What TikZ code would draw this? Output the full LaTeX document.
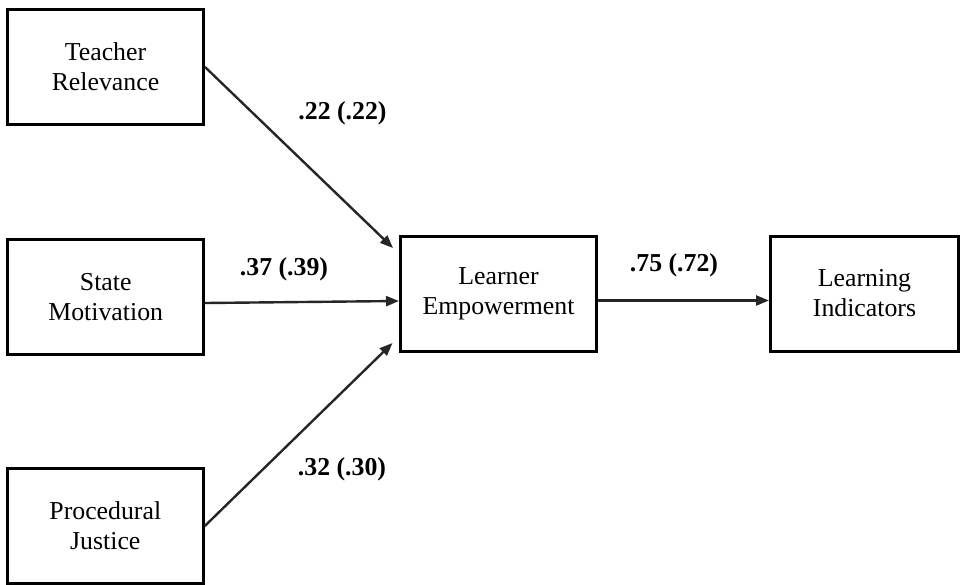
\documentclass[tikz,border=0pt]{standalone}
\usepackage{fontspec}
\setmainfont{Liberation Serif}
\usetikzlibrary{arrows.meta}
\tikzset{
  box/.style={draw=black, line width=3pt, minimum width=196pt, minimum height=115pt,
    inner sep=0pt, align=center, font=\fontsize{25.8}{30}\selectfont},
  conn/.style={draw=black!85, line width=2.4pt, -{Triangle[length=13pt,width=10pt]}},
  coef/.style={font=\fontsize{25.8}{30}\selectfont\bfseries, inner sep=0pt}
}
\begin{document}
\begin{tikzpicture}[x=1pt,y=-1pt]
\useasboundingbox (0,0) rectangle (960,584);
\fill[white] (0,0) rectangle (960,584);
\begin{scope}
\clip (0,0) rectangle (960,584);
\node[box] (TR) at (105.5,67) {Teacher\\Relevance};
\node[box] (SM) at (105.7,297) {State\\Motivation};
\node[box] (PJ) at (105.3,526) {Procedural\\Justice};
\node[box] (LE) at (498.5,293.5) {Learner\\Empowerment};
\node[box, minimum width=188pt] (LI) at (864.5,293.5) {Learning\\Indicators};
\end{scope}
\coordinate (t1) at (393,248);
\coordinate (t3) at (392.5,343);
\draw[conn] (TR.east) -- (t1);
\draw[conn] ([yshift=-6pt]SM.east) -- ([yshift=-7.5pt]LE.west);
\draw[conn] (PJ.east) -- (t3);
\draw[conn] ([yshift=-7pt]LE.east) -- ([yshift=-7pt]LI.west);
\node[coef] (c1) at (342.5,113) {.22 (.22)};
\node[coef] (c2) at (284,269) {.37 (.39)};
\node[coef] (c3) at (342,469) {.32 (.30)};
\node[coef] (c4) at (674,265) {.75 (.72)};
\end{tikzpicture}
\end{document}
